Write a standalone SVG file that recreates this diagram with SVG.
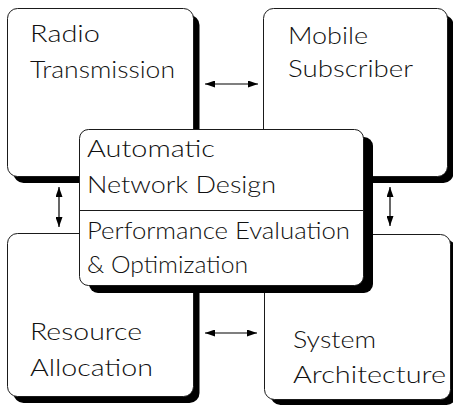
<svg xmlns="http://www.w3.org/2000/svg" width="453" height="406" viewBox="0 0 453 406">
  <style>
    .box { fill: #ffffff; stroke: #1a1a1a; stroke-width: 1; }
    .shadow { fill: #000000; }
    .label { font-family: "Lato", "Liberation Sans", Arial, sans-serif; font-weight: 300; font-size: 24px; fill: #111111; }
    .link { stroke: #000000; stroke-width: 1.2; fill: none; marker-start: url(#head); marker-end: url(#head); }
    .rule { stroke: #1a1a1a; stroke-width: 1; }
  </style>
  <defs>
    <marker id="head" viewBox="0 0 10 7" refX="10" refY="3.5" markerWidth="10" markerHeight="7" markerUnits="userSpaceOnUse" orient="auto-start-reverse">
      <path d="M0,0 L10,3.5 L0,7 z" fill="#000000"/>
    </marker>
  </defs>

  <rect width="453" height="406" fill="#ffffff"/>

  <!-- outer blocks, each with a drop shadow -->
  <g id="radio-transmission">
    <rect class="shadow" x="13.5" y="15" width="186" height="168" rx="10"/>
    <rect class="box" x="7.5" y="8.5" width="186" height="168" rx="10"/>
    <text class="label" x="30" y="42" textLength="70" lengthAdjust="spacingAndGlyphs">Radio</text>
    <text class="label" x="30" y="78" textLength="145" lengthAdjust="spacingAndGlyphs">Transmission</text>
  </g>

  <g id="mobile-subscriber">
    <rect class="shadow" x="269.5" y="15" width="184" height="168" rx="10"/>
    <rect class="box" x="263.5" y="8.5" width="184" height="168" rx="10"/>
    <text class="label" x="288" y="44" textLength="80" lengthAdjust="spacingAndGlyphs">Mobile</text>
    <text class="label" x="288" y="77" textLength="125" lengthAdjust="spacingAndGlyphs">Subscriber</text>
  </g>

  <g id="resource-allocation">
    <rect class="shadow" x="13.5" y="240" width="186" height="163" rx="10"/>
    <rect class="box" x="7.5" y="233.5" width="186" height="163" rx="10"/>
    <text class="label" x="30" y="340" textLength="112" lengthAdjust="spacingAndGlyphs">Resource</text>
    <text class="label" x="30" y="376" textLength="123" lengthAdjust="spacingAndGlyphs">Allocation</text>
  </g>

  <g id="system-architecture">
    <rect class="shadow" x="270.5" y="240" width="186" height="165" rx="10"/>
    <rect class="box" x="264.5" y="234.5" width="186" height="165" rx="10"/>
    <text class="label" x="293" y="348" textLength="83" lengthAdjust="spacingAndGlyphs">System</text>
    <text class="label" x="293" y="383" textLength="153" lengthAdjust="spacingAndGlyphs">Architecture</text>
  </g>

  <!-- central block sits on top of the four corners -->
  <g id="automatic-network-design">
    <rect class="shadow" x="89" y="137" width="284" height="156" rx="9"/>
    <rect class="box" x="79.5" y="129.5" width="284" height="156" rx="9"/>
    <line class="rule" x1="80" y1="210.5" x2="363" y2="210.5"/>
    <text class="label" x="87" y="157" textLength="128" lengthAdjust="spacingAndGlyphs">Automatic</text>
    <text class="label" x="87" y="193" textLength="189" lengthAdjust="spacingAndGlyphs">Network Design</text>
    <text class="label" x="87" y="239" textLength="263" lengthAdjust="spacingAndGlyphs">Performance Evaluation</text>
    <text class="label" x="87" y="273" textLength="161" lengthAdjust="spacingAndGlyphs">&amp; Optimization</text>
  </g>

  <!-- two-way links between neighbouring blocks -->
  <g id="connectors">
    <line class="link" x1="205" y1="84" x2="258" y2="84"/>
    <line class="link" x1="205" y1="333" x2="257" y2="333"/>
    <line class="link" x1="59" y1="187" x2="59" y2="227"/>
    <line class="link" x1="390" y1="187" x2="390" y2="226"/>
  </g>
</svg>
